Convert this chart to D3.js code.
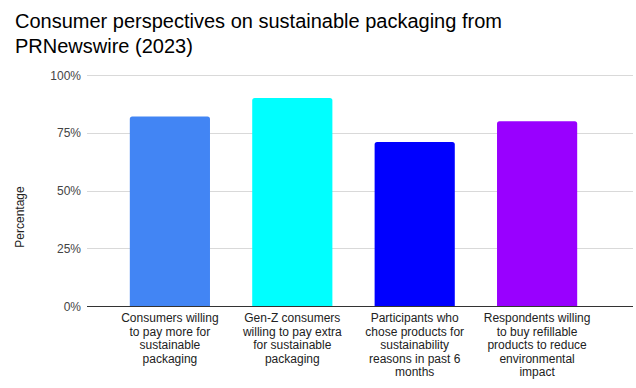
<!DOCTYPE html>
<html>
<head>
<meta charset="utf-8">
<script src="https://cdn.jsdelivr.net/npm/d3@7"></script>
<style>
  body { margin: 0; background: #fff; }
  svg { display: block; font-family: Arial, "Liberation Sans", sans-serif; }
</style>
</head>
<body>
<svg id="chart" width="636" height="388"></svg>
<script>
const categories = [
  ["Consumers willing", "to pay more for", "sustainable", "packaging"],
  ["Gen-Z consumers", "willing to pay extra", "for sustainable", "packaging"],
  ["Participants who", "chose products for", "sustainability", "reasons in past 6", "months"],
  ["Respondents willing", "to buy refillable", "products to reduce", "environmental", "impact"]
];
const values = [0.82, 0.90, 0.71, 0.80];
const colors = ["#4285f4", "#00ffff", "#0000ff", "#9900ff"];
const yTicks = [0, 0.25, 0.5, 0.75, 1];

const svg = d3.select("#chart");
const gridLeft = 87, gridRight = 633;
const plotTop = 75, plotBottom = 306;

const x = d3.scaleBand()
  .domain(d3.range(categories.length))
  .range([109, 598])
  .paddingInner(0.345)
  .paddingOuter(0.17);

const y = d3.scaleLinear().domain([0, 1]).range([plotBottom, plotTop]);

// title
const title = svg.append("text")
  .attr("x", 15)
  .attr("y", 28)
  .attr("font-size", 20)
  .attr("fill", "#000");
title.append("tspan").attr("x", 15).text("Consumer perspectives on sustainable packaging from");
title.append("tspan").attr("x", 15).attr("dy", 25).text("PRNewswire (2023)");

// gridlines
svg.append("g")
  .selectAll("line")
  .data(yTicks.filter(d => d > 0))
  .join("line")
  .attr("x1", gridLeft)
  .attr("x2", gridRight)
  .attr("y1", d => Math.round(y(d)) + 0.5)
  .attr("y2", d => Math.round(y(d)) + 0.5)
  .attr("stroke", "#d9d9d9")
  .attr("stroke-width", 1);

// y axis labels
const yAxis = svg.append("g")
  .attr("transform", `translate(${gridLeft - 6},0)`)
  .call(d3.axisLeft(y).tickValues(yTicks).tickFormat(d3.format(".0%")).tickSize(0));
yAxis.select(".domain").remove();
yAxis.selectAll("text")
  .attr("font-size", 12)
  .attr("font-family", "Arial, 'Liberation Sans', sans-serif")
  .attr("fill", "#444")
  .attr("dy", "0.35em")
  .attr("x", 0);

svg.append("text")
  .attr("transform", "translate(24,217) rotate(-90)")
  .attr("text-anchor", "middle")
  .attr("font-size", 12)
  .attr("fill", "#222")
  .text("Percentage");

// bars with rounded top corners
const r = 2.5;
svg.append("g")
  .selectAll("path")
  .data(values)
  .join("path")
  .attr("fill", (d, i) => colors[i])
  .attr("d", (d, i) => {
    const x0 = x(i), x1 = x(i) + x.bandwidth();
    const y0 = y(d), y1 = y(0);
    return `M${x0},${y1}V${y0 + r}Q${x0},${y0} ${x0 + r},${y0}H${x1 - r}Q${x1},${y0} ${x1},${y0 + r}V${y1}Z`;
  });

// baseline
svg.append("line")
  .attr("x1", gridLeft)
  .attr("x2", gridRight)
  .attr("y1", y(0) + 0.5)
  .attr("y2", y(0) + 0.5)
  .attr("stroke", "#333")
  .attr("stroke-width", 1);

// x labels
const xl = svg.append("g")
  .selectAll("text")
  .data(categories)
  .join("text")
  .attr("text-anchor", "middle")
  .attr("font-size", 12)
  .attr("fill", "#222")
  .attr("y", 322);
xl.each(function (lines, i) {
  const t = d3.select(this);
  lines.forEach((s, j) => {
    t.append("tspan")
      .attr("x", x(i) + x.bandwidth() / 2)
      .attr("dy", j === 0 ? 0 : 13.6)
      .text(s);
  });
});
</script>
</body>
</html>
